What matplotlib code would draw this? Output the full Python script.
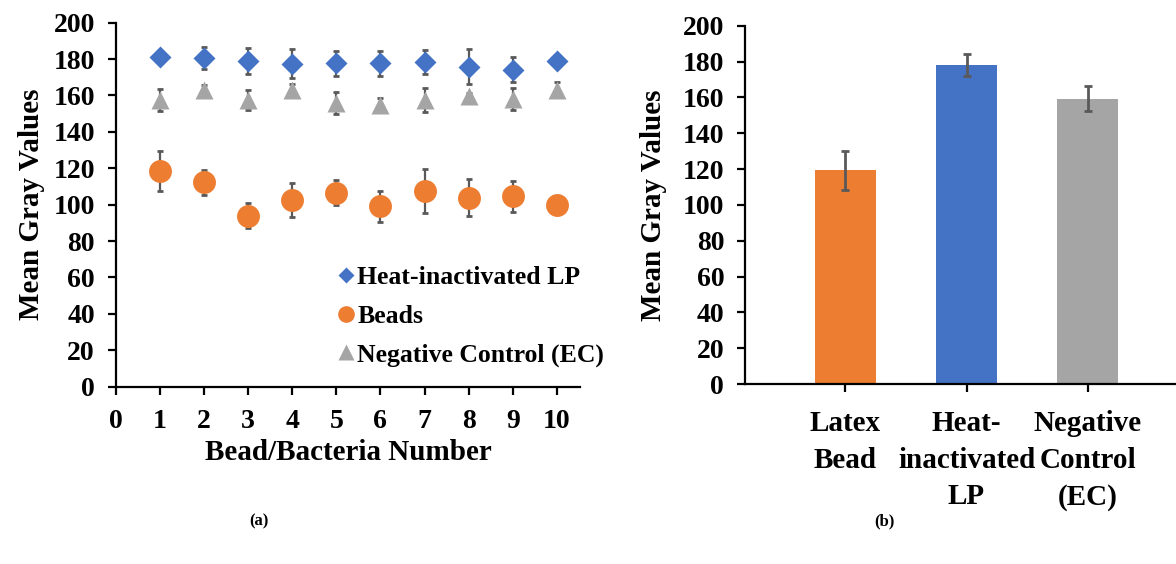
import numpy as np
import matplotlib
matplotlib.use("Agg")
import matplotlib.pyplot as plt

plt.rcParams['font.family'] = ['Liberation Serif', 'DejaVu Serif']
plt.rcParams['font.weight'] = 'bold'

# panel (a): mean gray values per bead/bacterium
bead_no = [1, 2, 3, 4, 5, 6, 7, 8, 9, 10]
lp_mean = [181.4, 180.6, 179.0, 177.5, 177.6, 177.6, 178.2, 175.8, 174.2, 178.7]
lp_err = [3.0, 6.2, 7.3, 8.0, 7.0, 7.0, 6.6, 9.5, 6.7, 2.0]
beads_mean = [118.5, 112.2, 94.0, 102.7, 106.6, 99.0, 107.5, 103.8, 104.5, 100.0]
beads_err = [10.8, 6.7, 7.0, 9.4, 6.7, 8.3, 12.3, 10.2, 8.6, 2.0]
ec_mean = [157.5, 163.0, 157.5, 163.0, 155.8, 155.0, 157.5, 159.5, 158.2, 163.2]
ec_err = [6.2, 3.0, 5.7, 3.5, 6.0, 3.5, 6.8, 2.0, 6.0, 4.0]

# panel (b): averages
groups = ['Latex\nBead', 'Heat-\ninactivated\nLP', 'Negative\nControl\n(EC)']
group_mean = [119.2, 178.1, 159.3]
group_err = [10.9, 6.2, 7.0]

blue = '#4472C4'
orange = '#ED7D31'
gray = '#A5A5A5'
ecol = '#595959'

fig = plt.figure(figsize=(11.76, 5.64), dpi=100)

def style_axes(ax):
    for s in ['top', 'right']:
        ax.spines[s].set_visible(False)
    for s in ['left', 'bottom']:
        ax.spines[s].set_linewidth(1.6)
    ax.tick_params(width=1.6, length=6, direction='out')
    ax.tick_params(axis='y', pad=9)

# ---- (a) scatter with error bars
ax1 = fig.add_axes([0.0984, 0.3144, 0.395, 0.6454])
eb = dict(ecolor=ecol, elinewidth=1.6, capsize=2.5, capthick=2, linestyle='none')
ax1.errorbar(bead_no, lp_mean, yerr=lp_err, marker='D', ms=11, color=blue,
             mec='none', label='Heat-inactivated LP', **eb)
ax1.errorbar(bead_no, beads_mean, yerr=beads_err, marker='o', ms=16.5, color=orange,
             mec='none', label='Beads', **eb)
ax1.errorbar(bead_no, ec_mean, yerr=ec_err, marker='^', ms=13.5, color=gray,
             mec='none', label='Negative Control (EC)', **eb)
ax1.set_xlim(0, 10.53)
ax1.set_ylim(0, 200)
ax1.set_xticks(range(0, 11))
ax1.set_yticks(range(0, 201, 20))
style_axes(ax1)
ax1.tick_params(labelsize=20)
ax1.tick_params(axis='x', pad=10)
ax1.set_xlabel('Bead/Bacteria Number', fontsize=21, fontweight='bold', labelpad=4)
ax1.set_ylabel('Mean Gray Values', fontsize=21, fontweight='bold', labelpad=6)

# legend built from markers only (no error bars)
h = [plt.Line2D([], [], marker='D', ms=8, color=blue, ls='none', mec='none'),
     plt.Line2D([], [], marker='o', ms=12, color=orange, ls='none', mec='none'),
     plt.Line2D([], [], marker='^', ms=11, color=gray, ls='none', mec='none')]
ax1.legend(h, ['Heat-inactivated LP', 'Beads', 'Negative Control (EC)'],
           loc='lower left', bbox_to_anchor=(0.44, 0.012), frameon=False,
           handlelength=0.8, handletextpad=0.05, labelspacing=0.62,
           borderaxespad=0.2, prop={'weight': 'bold', 'size': 18.5})

# ---- (b) bar chart
ax2 = fig.add_axes([0.6335, 0.3191, 0.3665, 0.6353])
x = np.arange(len(groups))
ax2.bar(x, group_mean, width=0.5, color=[orange, blue, gray])
ax2.errorbar(x, group_mean, yerr=group_err, ecolor=ecol, elinewidth=2,
             capsize=3, capthick=2, linestyle='none')
ax2.set_xlim(-0.83, 2.73)
ax2.set_ylim(0, 200)
ax2.set_yticks(range(0, 201, 20))
ax2.set_xticks(x)
ax2.set_xticklabels(groups, linespacing=1.45)
style_axes(ax2)
ax2.tick_params(axis='y', labelsize=20)
ax2.tick_params(axis='x', labelsize=21, pad=13)
ax2.set_ylabel('Mean Gray Values', fontsize=21, fontweight='bold')
ax2.yaxis.set_label_coords(-0.18, 0.5)

fig.text(0.2203, 0.076, '(a)', ha='center', va='center', fontsize=12, fontweight='bold')
fig.text(0.7517, 0.076, '(b)', ha='center', va='center', fontsize=12, fontweight='bold')

fig.savefig('out.png', dpi=100)
